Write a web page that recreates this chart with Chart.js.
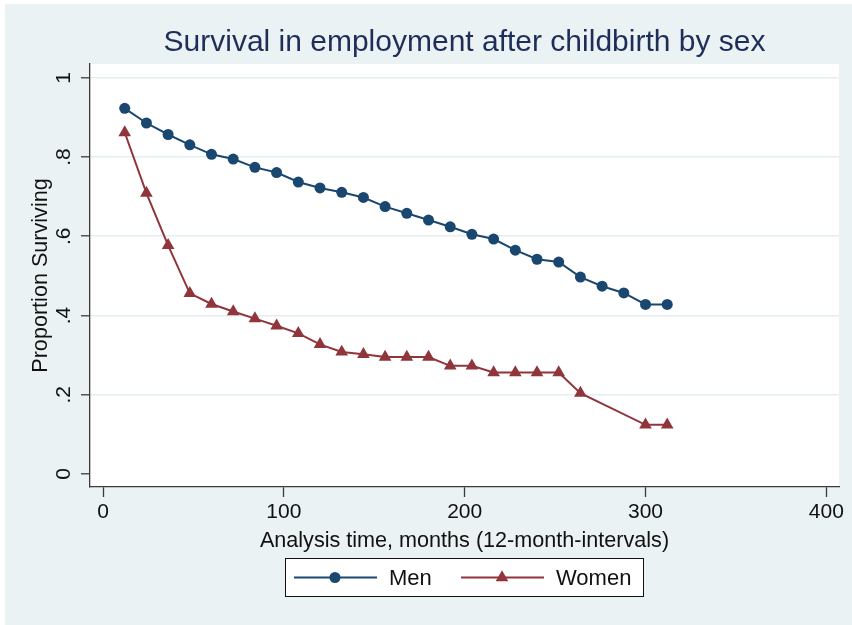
<!DOCTYPE html>
<html>
<head>
<meta charset="utf-8">
<title>Survival in employment after childbirth by sex</title>
<script src="https://cdn.jsdelivr.net/npm/chart.js@4/dist/chart.umd.min.js"></script>
<style>
  html, body { margin: 0; padding: 0; background: #ffffff; }
  #wrap { position: absolute; left: 0; top: 0; width: 852px; height: 625px; }
</style>
</head>
<body>
<div id="wrap"><canvas id="surv" width="852" height="625"></canvas></div>
<script>
// analysis time in months, 12-month intervals
const menMonths = [12, 24, 36, 48, 60, 72, 84, 96, 108, 120, 132, 144, 156,
  168, 180, 192, 204, 216, 228, 240, 252, 264, 276, 288, 300, 312];
const menSurv = [0.923, 0.886, 0.857, 0.831, 0.807, 0.795, 0.774, 0.761, 0.737,
  0.722, 0.711, 0.698, 0.675, 0.658, 0.641, 0.624, 0.605, 0.593, 0.565, 0.542,
  0.535, 0.497, 0.474, 0.457, 0.428, 0.428];

// no women's intervals at 276 and 288
const womenMonths = [12, 24, 36, 48, 60, 72, 84, 96, 108, 120, 132, 144, 156,
  168, 180, 192, 204, 216, 228, 240, 252, 264, 300, 312];
const womenSurv = [0.862, 0.709, 0.577, 0.456, 0.429, 0.410, 0.392, 0.374, 0.355,
  0.327, 0.308, 0.302, 0.295, 0.295, 0.295, 0.273, 0.273, 0.256, 0.256, 0.256,
  0.256, 0.204, 0.124, 0.124];

const xTicks = [0, 100, 200, 300, 400];
const yTicks = [0, 0.2, 0.4, 0.6, 0.8, 1];
const yTickLabels = ['0', '.2', '.4', '.6', '.8', '1'];

const seriesNames = ['Men', 'Women'];

const NAVY = '#1a476f';
const MAROON = '#90353b';
const BG = '#eaf2f3';
const GRID = '#e4edf0';
const AXIS = '#3a3a3a';
const FONT = "'Liberation Sans', Arial, Helvetica, sans-serif";

function pts(xs, ys) {
  return xs.map((x, i) => ({ x: x, y: ys[i] }));
}

// outer region + white plot region
const panelBg = {
  id: 'panelBg',
  beforeDraw(chart) {
    const { ctx, chartArea: a } = chart;
    ctx.save();
    ctx.fillStyle = '#ffffff';
    ctx.fillRect(0, 0, chart.width, chart.height);
    ctx.fillStyle = BG;
    ctx.fillRect(5, 4, chart.width - 5, chart.height - 4);
    ctx.fillStyle = '#ffffff';
    ctx.fillRect(a.left, a.top, a.right - a.left, a.bottom - a.top);
    ctx.restore();
  }
};

// boxed legend under the axis title, line + marker samples
const boxLegend = {
  id: 'boxLegend',
  afterDraw(chart) {
    const { ctx, chartArea: a } = chart;
    const w = 359, h = 39;
    const left = Math.round((a.left + a.right) / 2 - w / 2);
    const top = a.bottom + 71;
    const midY = top + h / 2;
    ctx.save();
    ctx.fillStyle = '#ffffff';
    ctx.fillRect(left, top, w, h);
    ctx.strokeStyle = '#111111';
    ctx.lineWidth = 1;
    ctx.strokeRect(left + 0.5, top + 0.5, w - 1, h - 1);

    const offs = [9, 176];
    chart.data.datasets.forEach((ds, i) => {
      const x0 = left + offs[i];
      ctx.strokeStyle = ds.borderColor;
      ctx.lineWidth = 2;
      ctx.beginPath();
      ctx.moveTo(x0, midY);
      ctx.lineTo(x0 + 83, midY);
      ctx.stroke();
      ctx.fillStyle = ds.pointBackgroundColor;
      ctx.strokeStyle = ds.pointBorderColor;
      Chart.helpers.drawPoint(ctx, {
        pointStyle: ds.pointStyle,
        radius: ds.pointRadius,
        rotation: 0,
        borderWidth: 0
      }, x0 + 41, midY);
      ctx.fillStyle = '#111111';
      ctx.font = '22px ' + FONT;
      ctx.textAlign = 'left';
      ctx.textBaseline = 'middle';
      ctx.fillText(ds.label, x0 + 95, midY + 1);
    });
    ctx.restore();
  }
};

const ctx = document.getElementById('surv').getContext('2d');

new Chart(ctx, {
  type: 'line',
  data: {
    datasets: [
      {
        label: seriesNames[0],
        data: pts(menMonths, menSurv),
        borderColor: NAVY,
        backgroundColor: NAVY,
        pointBackgroundColor: NAVY,
        pointBorderColor: NAVY,
        pointStyle: 'circle',
        pointRadius: 5.5,
        pointBorderWidth: 0,
        borderWidth: 2,
        tension: 0,
        fill: false
      },
      {
        label: seriesNames[1],
        data: pts(womenMonths, womenSurv),
        borderColor: MAROON,
        backgroundColor: MAROON,
        pointBackgroundColor: MAROON,
        pointBorderColor: MAROON,
        pointStyle: 'triangle',
        pointRadius: 7.3,
        pointBorderWidth: 0,
        borderWidth: 2,
        tension: 0,
        fill: false
      }
    ]
  },
  options: {
    responsive: false,
    animation: false,
    events: [],
    layout: { padding: { left: 0, right: 13, top: 0, bottom: 68 } },
    plugins: {
      legend: { display: false },
      tooltip: { enabled: false },
      title: {
        display: true,
        text: 'Survival in employment after childbirth by sex',
        color: '#1e2e58',
        fullSize: false,
        font: { family: FONT, size: 30, weight: 'normal' },
        padding: { top: 24.5, bottom: 3.5 }
      }
    },
    scales: {
      x: {
        type: 'linear',
        min: -7.2,
        max: 407,
        afterBuildTicks: (s) => { s.ticks = xTicks.map(v => ({ value: v })); },
        afterFit: (s) => { s.height = 70; },
        ticks: {
          autoSkip: false,
          maxRotation: 0,
          minRotation: 0,
          padding: 3,
          color: '#111111',
          font: { family: FONT, size: 21 },
          callback: (v) => String(v)
        },
        grid: {
          drawOnChartArea: false,
          drawTicks: true,
          tickLength: 10,
          tickColor: AXIS,
          tickWidth: 1.3
        },
        border: { display: true, color: AXIS, width: 1.3 },
        title: {
          display: true,
          text: 'Analysis time, months (12-month-intervals)',
          color: '#111111',
          font: { family: FONT, size: 21.6 },
          padding: { top: 0, bottom: 3.2 }
        }
      },
      y: {
        type: 'linear',
        min: -0.033,
        max: 1.035,
        afterBuildTicks: (s) => { s.ticks = yTicks.map(v => ({ value: v })); },
        afterFit: (s) => { s.width = 90; },
        ticks: {
          autoSkip: false,
          minRotation: 90,
          maxRotation: 90,
          crossAlign: 'center',
          padding: 8,
          color: '#111111',
          font: { family: FONT, size: 21 },
          callback: (v) => {
            const i = yTicks.findIndex(t => Math.abs(t - v) < 1e-9);
            return i >= 0 ? yTickLabels[i] : '';
          }
        },
        grid: {
          color: (c) => (c.tick && c.tick.value === 0 ? 'rgba(0,0,0,0)' : GRID),
          lineWidth: 1.6,
          drawTicks: true,
          tickLength: 9,
          tickColor: AXIS,
          tickWidth: 1.3
        },
        border: { display: true, color: AXIS, width: 1.3 },
        title: {
          display: true,
          text: 'Proportion Surviving',
          color: '#111111',
          font: { family: FONT, size: 21.6 },
          padding: { top: 28, bottom: 0 }
        }
      }
    }
  },
  plugins: [panelBg, boxLegend]
});
</script>
</body>
</html>
